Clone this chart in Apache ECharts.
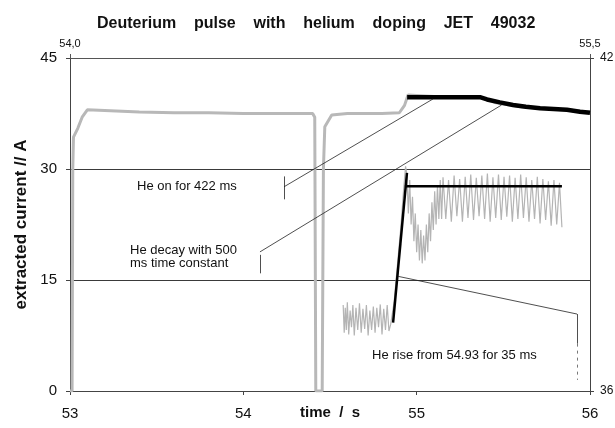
<!DOCTYPE html>
<html>
<head>
<meta charset="utf-8">
<script src="https://cdn.jsdelivr.net/npm/echarts@6/dist/echarts.min.js"></script>
<style>
html,body{margin:0;padding:0;background:#fff;}
#chart{width:615px;height:428px;}
</style>
</head>
<body>
<div id="chart"></div>
<script>
// ---- Data ----
// Main measured current trace (bottom time axis s, left axis A)
var mainTraceTime = [53.000, 53.012, 53.016, 53.020, 53.045, 53.070, 53.100, 53.200, 53.400, 53.600, 53.800, 54.000, 54.200, 54.400, 54.412, 54.418, 54.455, 54.462, 54.470, 54.510, 54.600, 54.800, 54.900, 54.930, 54.950, 55.100, 55.370, 55.450, 55.600, 55.780, 56.000];
var mainTraceValue = [0, 0, 30, 34.3, 35.5, 37.0, 38.0, 37.9, 37.7, 37.6, 37.6, 37.5, 37.5, 37.5, 37.0, 0, 0, 30, 35.7, 37.3, 37.5, 37.5, 37.6, 38.6, 40.0, 39.8, 39.7, 39.0, 38.4, 38.1, 37.7];

// Model: He on for 422 ms then decay (bottom time axis, left axis)
var modelTopTime = [54.945, 55.365, 55.406, 55.480, 55.556, 55.630, 55.712, 55.790, 55.867, 55.942, 56.000];
var modelTopValue = [39.7, 39.7, 39.4, 39.0, 38.65, 38.4, 38.2, 38.1, 38.0, 37.75, 37.6];

// Zoomed trace (top time axis 54.0-55.5, right axis 36-42)
var zoomTraceTime = [54.788, 54.791, 54.794, 54.797, 54.800, 54.804, 54.808, 54.812, 54.816, 54.820, 54.825, 54.830, 54.835, 54.840, 54.845, 54.850, 54.855, 54.860, 54.865, 54.870, 54.875, 54.880, 54.885, 54.890, 54.895, 54.900, 54.905, 54.910, 54.915, 54.920,
  54.925, 54.935, 54.945, 54.955, 54.962, 54.968, 54.972,
  54.976, 54.980, 54.984, 54.988, 54.992, 54.996, 55.000, 55.004, 55.008, 55.012, 55.016, 55.020, 55.024, 55.028, 55.032, 55.036, 55.040, 55.044, 55.048, 55.052, 55.056, 55.060, 55.064, 55.068, 55.072,
  55.076, 55.084, 55.092, 55.100, 55.108, 55.116, 55.124, 55.132, 55.140, 55.148, 55.156, 55.164, 55.172, 55.180, 55.188, 55.196, 55.204, 55.212, 55.220, 55.228, 55.236, 55.244, 55.252, 55.260, 55.268, 55.276, 55.284, 55.292, 55.300, 55.308, 55.316, 55.324, 55.332, 55.340, 55.348, 55.356, 55.364, 55.372, 55.380, 55.388, 55.396, 55.404, 55.412, 55.419];
var zoomTraceValue = [37.55, 37.05, 37.50, 37.10, 37.60, 37.02, 37.45, 37.15, 37.55, 37.00, 37.50, 37.10, 37.58, 37.05, 37.48, 37.12, 37.55, 37.00, 37.45, 37.10, 37.52, 37.05, 37.50, 37.15, 37.56, 37.02, 37.48, 37.10, 37.55, 37.08,
  37.20, 37.60, 38.30, 39.00, 39.60, 40.05, 39.90,
  39.20, 39.80, 39.00, 39.50, 38.70, 39.20, 38.50, 39.00, 38.35, 38.90, 38.30, 38.80, 38.35, 39.00, 38.50, 39.20, 38.70, 39.40, 38.90, 39.60, 39.00, 39.70, 39.10, 39.80, 39.10,
  39.85, 39.10, 39.80, 39.05, 39.88, 39.15, 39.82, 39.05, 39.86, 39.12, 39.90, 39.08, 39.84, 39.15, 39.88, 39.10, 39.92, 39.05, 39.85, 39.12, 39.90, 39.08, 39.86, 39.14, 39.88, 39.05, 39.84, 39.10, 39.90, 39.12, 39.85, 39.05, 39.80, 39.10, 39.86, 39.02, 39.82, 39.08, 39.78, 38.98, 39.80, 39.00, 39.75, 38.95];

// Model on zoomed axes: He rise from 54.93 for 35 ms, then plateau
var riseTime = [54.932, 54.972];
var riseValue = [37.23, 39.93];
var plateauTime = [54.966, 55.419];
var plateauValue = [39.69, 39.69];

// Axis tick labels
var bottomTicks = [53, 54, 55, 56];
var leftTicks = [0, 15, 30, 45];
var topTicks = ['54,0', '55,5'];
var rightTicks = [36, 42];

function pairs(xs, ys) { return xs.map(function (x, i) { return [x, ys[i]]; }); }

var FONT = '"Liberation Sans", Arial, sans-serif';
var chart = echarts.init(document.getElementById('chart'), null, {renderer: 'canvas'});

var leaderStyle = {color: '#222', width: 0.8, type: 'solid'};

var option = {
  backgroundColor: '#ffffff',
  animation: false,
  title: {
    text: 'Deuterium    pulse    with    helium    doping    JET    49032',
    left: 92, top: 11,
    textStyle: {fontFamily: FONT, fontSize: 16, fontWeight: 'bold', color: '#111'}
  },
  grid: {left: 70, right: 25, top: 58, bottom: 37, show: false, containLabel: false, outerBoundsMode: 'none'},
  xAxis: [{
    type: 'value', min: 53, max: 56, interval: 1, position: 'bottom',
    name: 'time  /  s', nameLocation: 'middle', nameGap: 14, nameMoveOverlap: false,
    nameTextStyle: {fontFamily: FONT, fontSize: 15, fontWeight: 'bold', color: '#111'},
    axisLine: {show: true, lineStyle: {color: '#444', width: 1}},
    axisTick: {show: true, length: 4, lineStyle: {color: '#444'}},
    axisLabel: {fontFamily: FONT, fontSize: 15, color: '#111', margin: 15,
      formatter: function (v) { return bottomTicks.indexOf(v) >= 0 ? String(v) : ''; }},
    splitLine: {show: false}
  }, {
    type: 'value', min: 54, max: 55.5, interval: 1.5, position: 'top',
    axisLine: {show: true, lineStyle: {color: '#555', width: 1}},
    axisTick: {show: true, length: 4, lineStyle: {color: '#555'}},
    axisLabel: {fontFamily: FONT, fontSize: 11, color: '#111', margin: 9,
      showMinLabel: true, showMaxLabel: true,
      formatter: function (v) { return v === 54 ? topTicks[0] : (v === 55.5 ? topTicks[1] : ''); }},
    splitLine: {show: false}
  }],
  yAxis: [{
    type: 'value', min: 0, max: 45, interval: 15, position: 'left',
    name: 'extracted current // A', nameLocation: 'middle', nameGap: 40, nameRotate: 90, nameMoveOverlap: false,
    nameTextStyle: {fontFamily: FONT, fontSize: 17, fontWeight: 'bold', color: '#111'},
    axisLine: {show: true, lineStyle: {color: '#444', width: 1}},
    axisTick: {show: true, length: 4, lineStyle: {color: '#444'}},
    axisLabel: {fontFamily: FONT, fontSize: 15, color: '#111', margin: 13,
      formatter: function (v) { return leftTicks.indexOf(v) >= 0 ? String(v) : ''; }},
    splitLine: {show: true, lineStyle: {color: '#3a3a3a', width: 1}}
  }, {
    type: 'value', min: 36, max: 42, interval: 6, position: 'right',
    axisLine: {show: true, lineStyle: {color: '#444', width: 1}},
    axisTick: {show: true, length: 4, lineStyle: {color: '#444'}},
    axisLabel: {fontFamily: FONT, fontSize: 12, color: '#111', margin: 10,
      formatter: function (v) { return rightTicks.indexOf(v) >= 0 ? String(v) : ''; }},
    splitLine: {show: false}
  }],
  series: [{
    name: 'measured', type: 'line', xAxisIndex: 0, yAxisIndex: 0,
    data: pairs(mainTraceTime, mainTraceValue), showSymbol: false, symbol: 'none',
    lineStyle: {color: '#b8b8b8', width: 3}, z: 2
  }, {
    name: 'measured (zoom)', type: 'line', xAxisIndex: 1, yAxisIndex: 1,
    data: pairs(zoomTraceTime, zoomTraceValue), showSymbol: false, symbol: 'none',
    lineStyle: {color: '#b4b4b4', width: 1.2}, z: 2
  }, {
    name: 'model', type: 'line', xAxisIndex: 0, yAxisIndex: 0,
    data: pairs(modelTopTime, modelTopValue), showSymbol: false, symbol: 'none',
    lineStyle: {color: '#000', width: 4.5}, z: 4,
    markLine: {
      silent: true, symbol: ['none', 'none'], label: {show: false},
      lineStyle: leaderStyle,
      data: [
        [{coord: [54.235, 27.6]}, {coord: [55.094, 39.46]}],
        [{coord: [54.235, 29.0]}, {coord: [54.235, 25.9]}],
        [{coord: [54.096, 18.8]}, {coord: [55.49, 38.65]}],
        [{coord: [54.096, 18.4]}, {coord: [54.096, 15.9]}],
        [{coord: [54.892, 15.5]}, {coord: [55.925, 10.4]}],
        [{coord: [55.925, 10.4]}, {coord: [55.925, 6.4]}],
        [{coord: [55.925, 6.4]}, {coord: [55.925, 1.5], lineStyle: {type: [3, 4], color: '#555'}}]
      ]
    }
  }, {
    name: 'rise', type: 'line', xAxisIndex: 1, yAxisIndex: 1,
    data: pairs(riseTime, riseValue), showSymbol: false, symbol: 'none',
    lineStyle: {color: '#000', width: 2.5}, z: 4
  }, {
    name: 'plateau', type: 'line', xAxisIndex: 1, yAxisIndex: 1,
    data: pairs(plateauTime, plateauValue), showSymbol: false, symbol: 'none',
    lineStyle: {color: '#000', width: 2.5}, z: 4
  }],
  graphic: [
    {type: 'text', left: 137, top: 180, style: {text: 'He on for 422 ms', font: '13px ' + FONT, fill: '#111'}},
    {type: 'text', left: 130, top: 244, style: {text: 'He decay with 500\nms time constant', font: '13px ' + FONT, fill: '#111', lineHeight: 13}},
    {type: 'text', left: 372, top: 349, style: {text: 'He rise from 54.93 for 35 ms', font: '13px ' + FONT, fill: '#111'}}
  ]
};
chart.setOption(option);
</script>
</body>
</html>
